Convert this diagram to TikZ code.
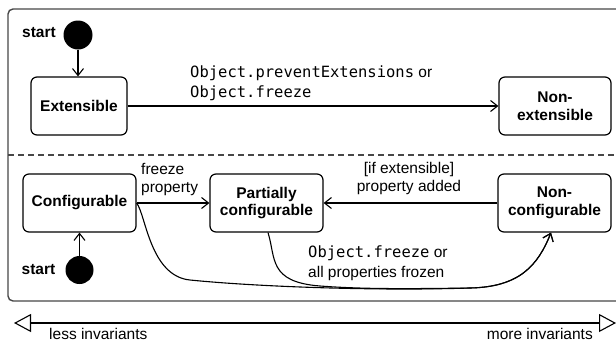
\documentclass[tikz,border=0pt]{standalone}
\usepackage{fontspec}
\setmainfont{Liberation Sans}
\newfontfamily\codefont{DejaVu Sans Mono}
\usetikzlibrary{arrows.meta}

\begin{document}
\begin{tikzpicture}[x=1pt,y=-1pt,
  state/.style={draw,line width=1.2pt,rounded corners=6pt,minimum height=58pt,
    align=center,font=\bfseries\fontsize{15.5}{17.5}\selectfont,inner sep=2pt},
  initial/.style={circle,fill=black,minimum size=29pt,inner sep=0pt},
  lbl/.style={font=\fontsize{15.5}{18}\selectfont,inner sep=0pt},
  codelbl/.style={font=\fontsize{15.5}{20}\selectfont,inner sep=0pt,align=left},
  trans/.style={line width=1.1pt,-{Straight Barb[length=7pt,width=11pt]}},
  frameline/.style={line width=1.4pt,black!72},
]
\useasboundingbox (0,0) rectangle (616,341);

% enclosing frame and the divider between the two regions
\draw[frameline,rounded corners=5pt] (8,9) rectangle (640,301);
\draw[line width=1.1pt,black!72,dash pattern=on 6pt off 4pt] (8,155) -- (616,155);

% extensibility states
\node[initial] (startA) at (78,35) {};
\node[font=\bfseries\fontsize{15.5}{18}\selectfont] (startAl) at (39,33) {start};
\node[state,minimum width=96pt] (ext) at (79,106) {Extensible};
\node[state,minimum width=112pt] (nonext) at (555,106) {Non-\\extensible};

\draw[trans] (startA.south) -- (startA.south |- ext.north);
\draw[trans] (ext) -- (nonext);
\node[codelbl,anchor=west] (extlbl) at (190,83)
  {\codefont Object.preventExtensions\rmfamily{} or\\\codefont Object.freeze};

% configurability states
\node[state,minimum width=113pt] (cfg) at (79.5,203) {Configurable};
\node[state,minimum width=113pt] (pcfg) at (266.5,203) {Partially\\configurable};
\node[state,minimum width=113pt] (ncfg) at (554.5,203) {Non-\\configurable};
\node[initial,minimum size=28pt] (startB) at (79.5,270) {};
\node[font=\bfseries\fontsize{15.5}{18}\selectfont] (startBl) at (38.5,270) {start};

\draw[trans] (startB.north) -- (startB.north |- cfg.south);
\draw[trans] (cfg.east) -- (pcfg.west);
\draw[trans] (ncfg.west) -- (pcfg.east);

\node[lbl,align=left,anchor=west] (frzlbl) at (141,179) {freeze\\property};
\node[lbl,align=center] (addlbl) at (409,178.5) {[if extensible]\\property added};

\coordinate (ncfgIn) at ([xshift=-3.5pt]ncfg.south);
\draw[trans] (cfg.east) .. controls (146,215) and (150,276) .. (190,280)
  .. controls (260,287) and (380,291) .. (470,288)
  .. controls (520,287) and (538,265) .. (ncfgIn);
\draw[trans] ([xshift=1.5pt]pcfg.south) .. controls (276,258) and (268,282) .. (320,286)
  .. controls (360,289) and (400,289) .. (470,288)
  .. controls (520,287) and (538,265) .. (ncfgIn);
\node[codelbl,anchor=west] (frzall) at (308,263)
  {\codefont Object.freeze\rmfamily{} or\\all properties frozen};

% invariants scale
\coordinate (lessEnd) at (14,323);
\coordinate (moreEnd) at (616,323);
\draw[line width=1.1pt,{Triangle[open,length=17pt,width=18pt]}-{Triangle[open,length=17pt,width=18pt]}]
  (lessEnd) -- (moreEnd);
\node[lbl,anchor=base west] (lesslbl) at (49,339) {less invariants};
\node[lbl,anchor=base east] (morelbl) at (593,339) {more invariants};
\end{tikzpicture}
\end{document}
